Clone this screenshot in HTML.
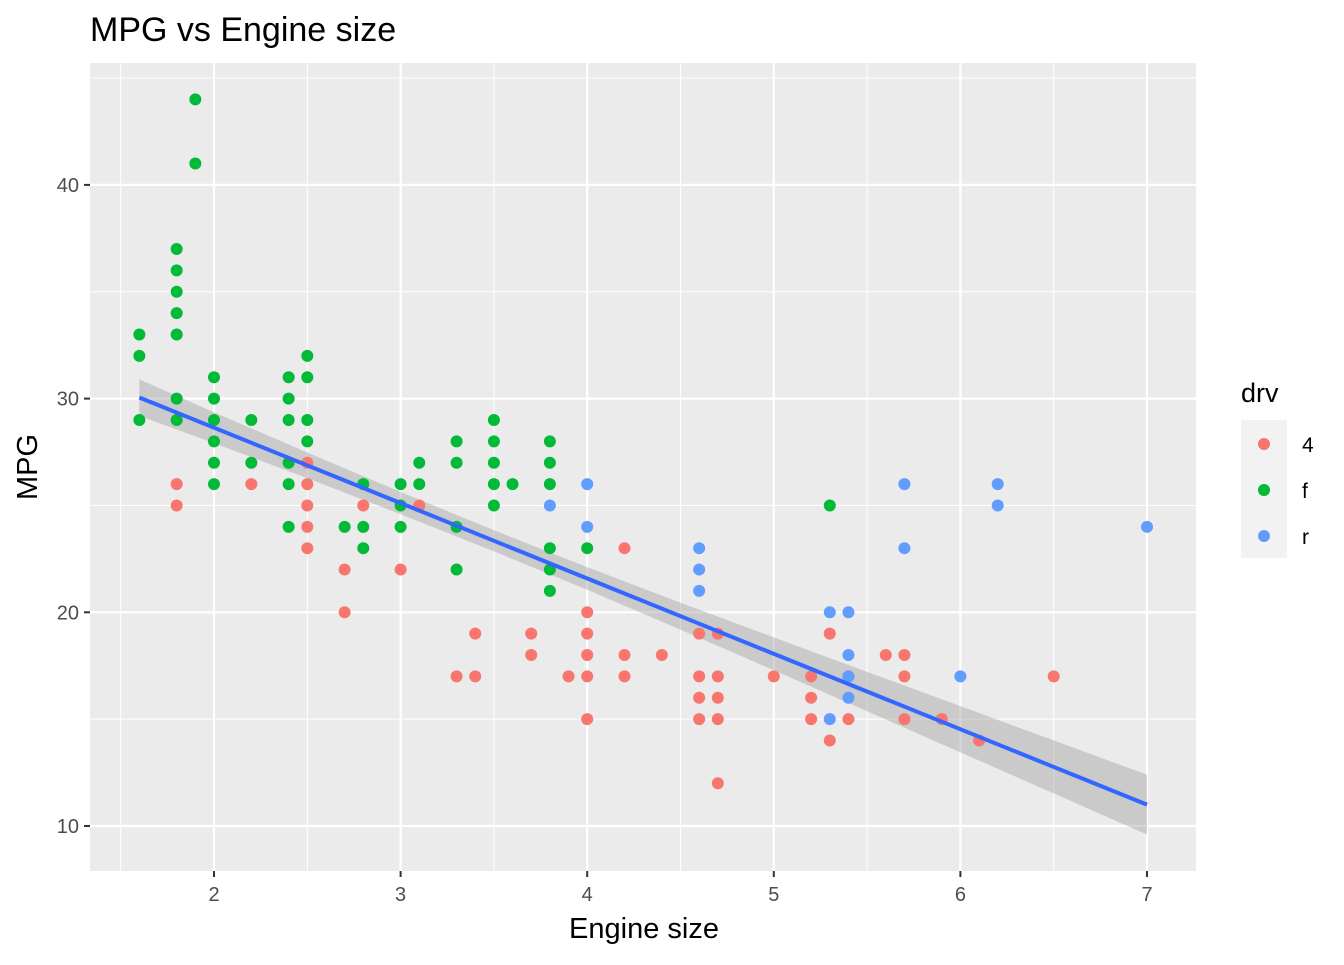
<!DOCTYPE html>
<html><head><meta charset="utf-8"><style>
body{margin:0;background:#fff;font-family:"Liberation Sans",sans-serif}
svg text{font-family:"Liberation Sans",sans-serif}
</style></head><body>
<svg id="chart" width="1344" height="960" xmlns="http://www.w3.org/2000/svg">
<rect width="1344" height="960" fill="#fff"/>
<text x="90" y="41" font-size="34" fill="#000">MPG vs Engine size</text>
<rect x="90" y="63" width="1106" height="808" fill="#ebebeb"/>
<g id="grid"></g>
<g id="band"></g>
<g id="points"></g>
<g id="axes"></g>
<text x="644" y="938" font-size="29" text-anchor="middle">Engine size</text>
<text transform="translate(37,467) rotate(-90)" font-size="29" text-anchor="middle">MPG</text>
<g>
<text x="1241" y="402" font-size="27">drv</text>
<rect x="1241" y="420" width="46" height="138" fill="#f2f2f2"/>
<circle cx="1264" cy="444" r="6" fill="#F8766D"/>
<circle cx="1264" cy="490" r="6" fill="#00BA38"/>
<circle cx="1264" cy="536" r="6" fill="#619CFF"/>
<text x="1302" y="452" font-size="21">4</text>
<text x="1302" y="498" font-size="21">f</text>
<text x="1302" y="544" font-size="21">r</text>
</g>
</svg>
<script>
const xTicks=[2,3,4,5,6,7];
const xMinor=[1.5,2.5,3.5,4.5,5.5,6.5];
const yTicks=[10,20,30,40];
const yMinor=[15,25,35,45];
const fDispl=[1.6,1.6,1.6,1.8,1.8,1.8,1.8,1.8,1.8,1.8,1.9,1.9,2,2,2,2,2,2,2.2,2.2,2.4,2.4,2.4,2.4,2.4,2.4,2.5,2.5,2.5,2.5,2.7,2.8,2.8,2.8,3,3,3,3.1,3.1,3.3,3.3,3.3,3.3,3.5,3.5,3.5,3.5,3.5,3.6,3.8,3.8,3.8,3.8,3.8,3.8,4,5.3];
const fHwy=[33,32,29,37,36,35,34,33,30,29,44,41,31,30,29,28,27,26,29,27,31,30,29,27,26,24,32,31,29,28,24,26,24,23,26,25,24,27,26,28,27,24,22,29,28,27,26,25,26,28,27,26,23,22,21,23,25];
const d4Displ=[1.8,1.8,2.2,2.5,2.5,2.5,2.5,2.5,2.7,2.7,2.8,3,3.1,3.3,3.4,3.4,3.7,3.7,3.9,4,4,4,4,4,4.2,4.2,4.2,4.4,4.6,4.6,4.6,4.6,4.7,4.7,4.7,4.7,4.7,5,5.2,5.2,5.2,5.3,5.3,5.4,5.4,5.6,5.7,5.7,5.7,5.9,6.1,6.5];
const d4Hwy=[26,25,26,27,26,25,24,23,22,20,25,22,25,17,19,17,19,18,17,20,19,18,17,15,23,18,17,18,19,17,16,15,19,17,16,15,12,17,17,16,15,19,14,17,15,18,18,17,15,15,14,17];
const rDispl=[3.8,4,4,4.6,4.6,4.6,5.3,5.3,5.4,5.4,5.4,5.4,5.7,5.7,6,6.2,6.2,7];
const rHwy=[25,26,24,23,22,21,20,15,20,18,17,16,26,23,17,26,25,24];
const fitX=[1.6,7];
const fitY=[30.05,11.0];
const bandX=[1.6,2,2.5,3,3.5,4,4.5,5,5.5,6,6.5,7];
const bandHalf=[0.85,0.72,0.6,0.52,0.49,0.53,0.63,0.77,0.92,1.08,1.24,1.4];

const NS="http://www.w3.org/2000/svg";
const X=v=>-159.2+186.6*v, Y=v=>1039.7-21.37*v;
function mk(tag,attrs,parent){const e=document.createElementNS(NS,tag);for(const k in attrs)e.setAttribute(k,attrs[k]);parent.appendChild(e);return e;}
const grid=document.getElementById('grid'),axes=document.getElementById('axes');
xMinor.forEach(v=>{const l=mk('line',{x1:X(v),x2:X(v),y1:63,y2:871,stroke:'#fff','stroke-width':1},grid);});
yMinor.forEach(v=>{const l=mk('line',{x1:90,x2:1196,y1:Y(v),y2:Y(v),stroke:'#fff','stroke-width':1},grid);});
xTicks.forEach(v=>{const l=mk('line',{x1:X(v),x2:X(v),y1:63,y2:871,stroke:'#fff','stroke-width':2.2},grid);
 const t=mk('line',{x1:X(v),x2:X(v),y1:871,y2:877,stroke:'#333','stroke-width':2},axes);
 const tx=mk('text',{x:X(v),y:901,'font-size':20,fill:'#4d4d4d','text-anchor':'middle'},axes);tx.textContent=v;});
yTicks.forEach(v=>{const l=mk('line',{x1:90,x2:1196,y1:Y(v),y2:Y(v),stroke:'#fff','stroke-width':2.2},grid);
 const t=mk('line',{x1:84,x2:90,y1:Y(v),y2:Y(v),stroke:'#333','stroke-width':2},axes);
 const tx=mk('text',{x:79,y:Y(v)+7,'font-size':20,fill:'#4d4d4d','text-anchor':'end'},axes);tx.textContent=v;});
const pts=document.getElementById('points');
function series(xs,ys,col,name){xs.forEach((x,i)=>{const c=mk('circle',{cx:X(x),cy:Y(ys[i]),r:6,fill:col},pts);});}
series(d4Displ,d4Hwy,'#F8766D','point-4');
series(fDispl,fHwy,'#00BA38','point-f');
series(rDispl,rHwy,'#619CFF','point-r');
const fy=x=>fitY[0]+(fitY[1]-fitY[0])*(x-fitX[0])/(fitX[1]-fitX[0]);
let up=bandX.map((x,i)=>X(x)+','+Y(fy(x)+bandHalf[i]));
let lo=bandX.map((x,i)=>X(x)+','+Y(fy(x)-bandHalf[i])).reverse();
const band=document.getElementById('band');
const poly=mk('polygon',{points:up.concat(lo).join(' '),fill:'#999','fill-opacity':0.4},band);


const fit=mk('line',{x1:X(fitX[0]),y1:Y(fitY[0]),x2:X(fitX[1]),y2:Y(fitY[1]),stroke:'#3366FF','stroke-width':4},document.getElementById('chart'));


</script>
</body></html>
